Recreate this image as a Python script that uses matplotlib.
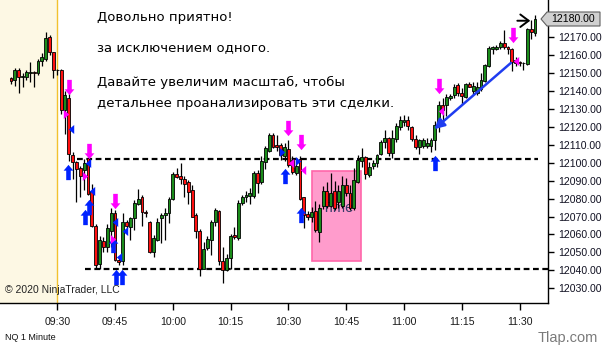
import numpy as np
import matplotlib
matplotlib.use("Agg")
import matplotlib.pyplot as plt
from matplotlib.path import Path
from matplotlib.patches import Rectangle, Polygon

# минутные бары NQ, индекс = минуты от 09:30
bar_idx = list(range(-12, 125))
opens = [12147, 12146, 12152, 12148, 12148, 12150.25, 12150.5, 12150, 12156.5, 12158, 12170, 12161.5,
         12152, 12151.5, 12129.5, 12136, 12104.5, 12100.5, 12097, 12096, 12102.5, 12084,
         12065, 12043.5, 12056.5, 12053, 12062, 12072, 12045.5, 12045, 12067, 12064,
         12069, 12077, 12080.7, 12072.7, 12067, 12050, 12057, 12069, 12071, 12072,
         12080, 12093.7, 12092.6, 12090.8, 12089.4, 12084.8, 12071, 12062, 12041, 12052.3,
         12057, 12066.7, 12073, 12045, 12040, 12047, 12059.7, 12058, 12077.4, 12080.7,
         12081.5, 12081.5, 12094.4, 12089, 12100.6, 12106.7, 12115.5, 12110, 12110, 12104,
         12107.5, 12101.5, 12094.4, 12102, 12080.7, 12071.4, 12069.6, 12073.3, 12061.5, 12076,
         12084, 12076, 12084, 12078, 12076, 12087.6, 12083, 12074.6, 12089.4, 12101,
         12103, 12093, 12098.2, 12099.7, 12105, 12111.7, 12113.6, 12105.3, 12113, 12120,
         12123, 12123.8, 12120, 12113, 12109, 12109.3, 12109.5, 12109.3, 12112.7, 12121,
         12132, 12132, 12136, 12137.8, 12143.3, 12139, 12136.5, 12144, 12140, 12139,
         12141, 12145.8, 12154, 12163.6, 12163.6, 12164.4, 12167, 12164.4, 12163.3, 12157.3,
         12155.8, 12155.4, 12155, 12174.4, 12172.5]
highs = [12148, 12153, 12153, 12150, 12152, 12156, 12151, 12158, 12161, 12173, 12171, 12162,
         12152.5, 12152.5, 12140, 12139, 12106, 12101, 12098, 12102, 12103, 12088,
         12066, 12059, 12058.5, 12066, 12075, 12073.5, 12047.5, 12072, 12068, 12070,
         12079, 12085.5, 12082, 12073.5, 12067.5, 12059.5, 12069, 12072, 12075, 12081,
         12095, 12097, 12100, 12092.5, 12090.5, 12087.5, 12072, 12063, 12056, 12059,
         12068, 12075, 12073.5, 12053, 12049, 12060.5, 12064, 12079, 12082, 12084.5,
         12086, 12095.5, 12096, 12103.5, 12109.5, 12116.5, 12116.5, 12115.5, 12111, 12111,
         12112.5, 12103.5, 12101.5, 12103.5, 12081, 12073, 12075.5, 12078.5, 12077, 12087,
         12089, 12094.5, 12090, 12087.5, 12092.5, 12091.5, 12087.5, 12097, 12104.5, 12108,
         12103.5, 12100.5, 12101.5, 12105, 12112.5, 12118, 12114.5, 12118, 12122, 12126,
         12126.5, 12126, 12120.5, 12115.5, 12113, 12114, 12114, 12114, 12123.5, 12134.5,
         12136, 12138.5, 12138.5, 12144, 12144.5, 12141.5, 12144.5, 12145, 12145, 12145,
         12150, 12155, 12165, 12165, 12165.5, 12168, 12174, 12165, 12164, 12159,
         12157, 12156, 12175, 12179.6, 12182.4]
lows = [12144, 12143, 12139, 12142, 12146, 12145, 12142, 12149, 12154, 12157, 12160, 12147,
        12149, 12127, 12116, 12101, 12091, 12078, 12081, 12085, 12082, 12064,
        12041, 12041, 12050, 12050, 12053, 12045, 12043, 12043, 12063.5, 12057,
        12062.5, 12076.5, 12065, 12070, 12049.5, 12047.5, 12056.5, 12055, 12057, 12066.5,
        12079.5, 12091.5, 12088, 12081, 12077, 12069.5, 12058, 12037, 12040.5, 12051.5,
        12048.5, 12065, 12043, 12033, 12039.5, 12041, 12057.5, 12057, 12076.5, 12078,
        12077, 12080.5, 12083, 12088, 12096.5, 12106, 12108, 12106.5, 12101.5, 12101,
        12097.5, 12093.5, 12093, 12079, 12063.6, 12068, 12067, 12061.5, 12055.6, 12074,
        12074.5, 12075.5, 12073.5, 12074.5, 12074.5, 12081.5, 12073.5, 12073.5, 12088.5, 12097.5,
        12091, 12092, 12096.5, 12097.5, 12104.5, 12108, 12103.5, 12102.5, 12111.5, 12118,
        12120.5, 12118.5, 12112, 12107.5, 12105, 12108, 12108, 12106, 12107, 12117,
        12124, 12126, 12135, 12136, 12137.5, 12132.5, 12136, 12142, 12138, 12138,
        12140, 12145, 12153.5, 12160.5, 12163, 12163.5, 12163.5, 12160.5, 12151, 12154,
        12154, 12151.7, 12154.5, 12169, 12170.7]
closes = [12145.5, 12152, 12148, 12148.5, 12150.5, 12150.5, 12150, 12156.5, 12159, 12169.5, 12161.5, 12152,
          12151.5, 12129.5, 12138, 12105, 12100.5, 12096.5, 12092.5, 12100, 12082.5, 12065,
          12043, 12057, 12053, 12063.5, 12072, 12046, 12044.5, 12067, 12064.7, 12069,
          12077.7, 12080, 12072.7, 12071.8, 12050, 12058, 12067, 12071, 12072, 12080,
          12094, 12092, 12090.8, 12088, 12083.8, 12070, 12062, 12040.6, 12051.7, 12057.3,
          12067, 12073.7, 12045, 12040, 12047, 12059, 12058.4, 12077.7, 12080.7, 12081.8,
          12083.3, 12094.4, 12088.9, 12101, 12108, 12115.5, 12109, 12109, 12104.3, 12109,
          12098.7, 12095, 12098, 12080, 12071, 12070, 12072.7, 12062.5, 12075, 12084,
          12076, 12083.3, 12075, 12084.4, 12087.6, 12083, 12074.6, 12090.4, 12101.5, 12103.4,
          12094, 12097.8, 12099.7, 12104.3, 12111.7, 12113.6, 12105.3, 12113.6, 12120.5, 12123.8,
          12123.8, 12120.5, 12113, 12109, 12112.7, 12112.7, 12111, 12112.7, 12121, 12132,
          12129.5, 12136.8, 12137.2, 12142.4, 12138.7, 12137, 12144, 12142.4, 12143, 12142,
          12146, 12154.5, 12163.8, 12164.4, 12164.7, 12167, 12164.4, 12163.3, 12156.4, 12155.8,
          12155.6, 12155.6, 12174.4, 12173, 12180]

time_ticks = [0, 15, 30, 45, 60, 75, 90, 105, 120]
time_labels = ["09:30", "09:45", "10:00", "10:15", "10:30", "10:45", "11:00", "11:15", "11:30"]
price_ticks = [12030, 12040, 12050, 12060, 12070, 12080, 12090, 12100, 12110, 12120,
               12130, 12140, 12150, 12160, 12170]
last_price = 12180.0

# уровни и зона "Time"
upper_level, lower_level = 12102.1, 12041.0
zone = (66.2, 78.8, 12045.4, 12095.4)

# сделки: (бар, цена)
sell_arrows = [(3.1, 12142.0), (8.2, 12106.5), (15.0, 12078.7), (59.9, 12119.4),
               (63.3, 12111.8), (99.1, 12142.8), (118.4, 12171.2)]
buy_arrows = [(2.8, 12094.6), (7.1, 12069.5), (8.25, 12075.6), (14.35, 12054.1),
              (15.3, 12036.3), (16.8, 12036.3), (59.0, 12092.6), (63.3, 12071.1), (98.0, 12100.1)]
blue_left = [(3.6, 12118.8), (8.0, 12099.6), (9.0, 12084.2), (15.0, 12066.7),
             (16.0, 12047.7), (17.7, 12061.7)]
blue_right = [(58.3, 12106.0), (62.5, 12101.2)]
pink_right = [(2.4, 12127.2), (7.3, 12092.6), (14.5, 12057.7)]
pink_left = [(60.7, 12099.9), (63.8, 12096.0), (99.5, 12128.9), (119.0, 12156.7)]
trend_start, trend_end = (97.3, 12117.7), (118.3, 12156.7)

W, H = 606, 350
fig = plt.figure(figsize=(W / 100, H / 100), dpi=100)
ax = fig.add_axes([0, 47 / H, 548 / W, 303 / H])
ax.set_xlim(-14.85, 127.38)
ax.set_ylim(12021.8, 12190.76)

ax.axvspan(-14.85, 0, color="#fdf8e4", zorder=0, lw=0)
ax.axvline(0, color="#f2c230", lw=1, zorder=1)

# зона
x0, x1, y0, y1 = zone
ax.add_patch(Rectangle((x0, y0), x1 - x0, y1 - y0, facecolor="#ff9ccc",
                       edgecolor="#ff66aa", lw=1.2, zorder=2))
ax.text((x0 + x1) / 2 + 0.3, 12075, "Time", color="#3a3a6a", fontsize=10.5,
        ha="center", va="center", zorder=2.5, family="Liberation Sans")

# уровни
ax.plot([5.1, 124.8], [upper_level] * 2, color="black", lw=1.6, dashes=(2.6, 1.6), zorder=3)
ax.plot([7.2, 127.38], [lower_level] * 2, color="black", lw=1.6, dashes=(2.6, 1.6), zorder=3)

# свечи
x = np.array(bar_idx)
o, h, l, c = map(np.array, (opens, highs, lows, closes))
up = c >= o
ax.vlines(x, l, h, color="black", lw=0.9, zorder=4)
body_lo = np.minimum(o, c)
body_h = np.maximum(np.abs(c - o), 0.35)
ax.bar(x, body_h, bottom=body_lo, width=0.75,
       color=np.where(up, "#1a8c1a", "#ff1010"), edgecolor="black", lw=0.6, zorder=5)

# маркеры сделок
down_path = Path([(-0.15, 0.5), (0.15, 0.5), (0.15, -0.12), (0.32, -0.12), (0, -0.5),
                  (-0.32, -0.12), (-0.15, -0.12), (-0.15, 0.5)], closed=True)
up_path = Path([(vx, -vy) for vx, vy in down_path.vertices], closed=True)
left_path = Path([(0.3, 0.5), (0.3, -0.5), (-0.3, 0), (0.3, 0.5)], closed=True)
right_path = Path([(-0.3, 0.5), (-0.3, -0.5), (0.3, 0), (-0.3, 0.5)], closed=True)

def draw(points, marker, color, size):
    px, py = zip(*points)
    ax.plot(px, py, ls="none", marker=marker, color=color, markersize=size,
            markeredgewidth=0, zorder=6)

draw(sell_arrows, down_path, "#ff00ff", 11)
draw(buy_arrows, up_path, "#0022ff", 11)
draw(blue_left, left_path, "#0022ff", 6.5)
draw(blue_right, right_path, "#0022ff", 6.5)
draw(pink_right, right_path, "#ff00ff", 6.5)
draw(pink_left, left_path, "#ff00ff", 6.5)

ax.annotate("", xy=trend_start, xytext=trend_end, zorder=6,
            arrowprops=dict(arrowstyle="-|>,head_length=0.6,head_width=0.3",
                            color="#1f3cf0", lw=1.8))
ax.annotate("", xy=(123.5, 12179.2), xytext=(118.7, 12179.2), zorder=6,
            arrowprops=dict(arrowstyle="->,head_length=0.6,head_width=0.45",
                            color="black", lw=1.4))

# оси
for s in ("top", "left"):
    ax.spines[s].set_visible(False)
ax.spines["right"].set_linewidth(1)
ax.spines["bottom"].set_linewidth(1)
ax.yaxis.tick_right()
ax.set_yticks(price_ticks)
ax.set_yticklabels([f"{p:.2f}" for p in price_ticks], fontsize=7.6,
                   family="Liberation Sans", color="#111122")
ax.set_xticks(time_ticks)
ax.set_xticklabels(time_labels, fontsize=7.6, family="Liberation Sans", color="#1a1a1a")
ax.tick_params(axis="y", direction="out", length=4, width=1, pad=3)
ax.tick_params(axis="x", direction="out", length=5, width=1, pad=5)

# метка последней цены
py = 1 - 19 / H
pts = [(541 / W, py), (547 / W, 1 - 12 / H), (600 / W, 1 - 12 / H),
       (600 / W, 1 - 26 / H), (547 / W, 1 - 26 / H)]
fig.add_artist(Polygon(pts, closed=True, transform=fig.transFigure,
                       facecolor="#d0d0d0", edgecolor="#606060", lw=0.8, zorder=10))
fig.text(573 / W, py, f"{last_price:.2f}", fontsize=7.6, family="Liberation Sans",
         ha="center", va="center", zorder=11)

# подписи
msg = [("Довольно приятно!", 17), ("за исключением одного.", 48),
       ("Давайте увеличим масштаб, чтобы", 82),
       ("детальнее проанализировать эти сделки.", 104)]
for s, yy in msg:
    fig.text(97 / W, 1 - yy / H, s, fontsize=9.5, family="DejaVu Sans",
             ha="left", va="center", color="black")

fig.text(5 / W, 1 - 290 / H, "© 2020 NinjaTrader, LLC", fontsize=7.5,
         family="Liberation Sans", va="center", color="#222222")
fig.text(5 / W, 1 - 338 / H, "NQ 1 Minute", fontsize=6.5, family="Liberation Sans",
         va="center", color="#111111")
fig.text(598 / W, 1 - 338 / H, "Tlap.com", fontsize=10.5, family="Liberation Sans",
         ha="right", va="center", color="#7a7a7a")

fig.savefig("out.png", dpi=100)
